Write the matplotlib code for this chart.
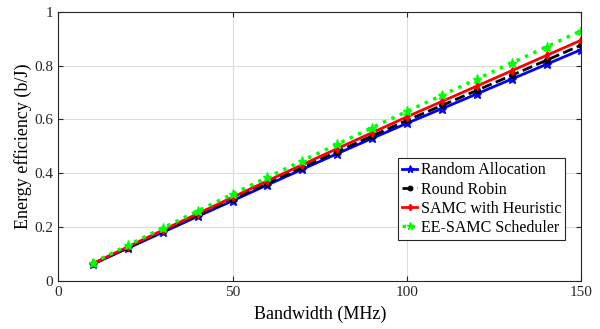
import numpy as np
import matplotlib
matplotlib.use("Agg")
import matplotlib.pyplot as plt

bandwidth = [10, 20, 30, 40, 50, 60, 70, 80, 90, 100, 110, 120, 130, 140, 150]
random_alloc = [0.063, 0.122, 0.181, 0.240, 0.298, 0.357, 0.415, 0.473, 0.530, 0.586, 0.640, 0.695, 0.750, 0.805, 0.860]
round_robin = [0.064, 0.124, 0.184, 0.244, 0.303, 0.363, 0.422, 0.481, 0.539, 0.597, 0.652, 0.708, 0.764, 0.820, 0.877]
samc_heur = [0.065, 0.127, 0.189, 0.250, 0.311, 0.372, 0.432, 0.492, 0.551, 0.610, 0.667, 0.724, 0.781, 0.838, 0.895]
ee_samc = [0.068, 0.133, 0.197, 0.260, 0.323, 0.385, 0.447, 0.508, 0.570, 0.630, 0.690, 0.750, 0.810, 0.870, 0.930]

plt.rcParams["font.family"] = ["Liberation Serif", "DejaVu Serif"]

fig = plt.figure(figsize=(6, 3.29), dpi=100)
ax = fig.add_axes([0.097, 0.146, 0.872, 0.818])

ax.plot(bandwidth, random_alloc, color="blue", linestyle="-", linewidth=2, marker="*", markersize=6.5, label="Random Allocation")
ax.plot(bandwidth, round_robin, color="black", linestyle="--", linewidth=2, marker="o", markersize=4, label="Round Robin")
ax.plot(bandwidth, samc_heur, color="red", linestyle="-", linewidth=2, marker="d", markersize=4, label="SAMC with Heuristic")
ax.plot(bandwidth, ee_samc, color="#00ff00", linestyle=":", linewidth=2.5, marker="*", markersize=6.5, label="EE-SAMC Scheduler")

ax.set_xlim(0, 150)
ax.set_ylim(0, 1)
ax.set_xticks([0, 50, 100, 150])
ax.set_yticks([0, 0.2, 0.4, 0.6, 0.8, 1])
ax.set_yticklabels(["0", "0.2", "0.4", "0.6", "0.8", "1"])
ax.tick_params(direction="in", top=True, right=True, labelsize=11, colors="#262626")
ax.grid(True, color="#dcdcdc", linewidth=0.8)
ax.set_axisbelow(True)
for s in ax.spines.values():
    s.set_color("#262626")
    s.set_linewidth(0.8)

ax.set_xlabel("Bandwidth (MHz)", fontsize=13, labelpad=5)
ax.set_ylabel("Energy efficiency (b/J)", fontsize=13, labelpad=2)

leg = ax.legend(loc="lower right", bbox_to_anchor=(0.969, 0.152), fontsize=11.5, fancybox=False,
                edgecolor="#262626", framealpha=1, handlelength=1.0, handletextpad=0.2,
                borderpad=0.25, labelspacing=0.2, borderaxespad=0, markerscale=0.8)
leg.get_frame().set_linewidth(0.8)

fig.savefig("out.png", dpi=100)
